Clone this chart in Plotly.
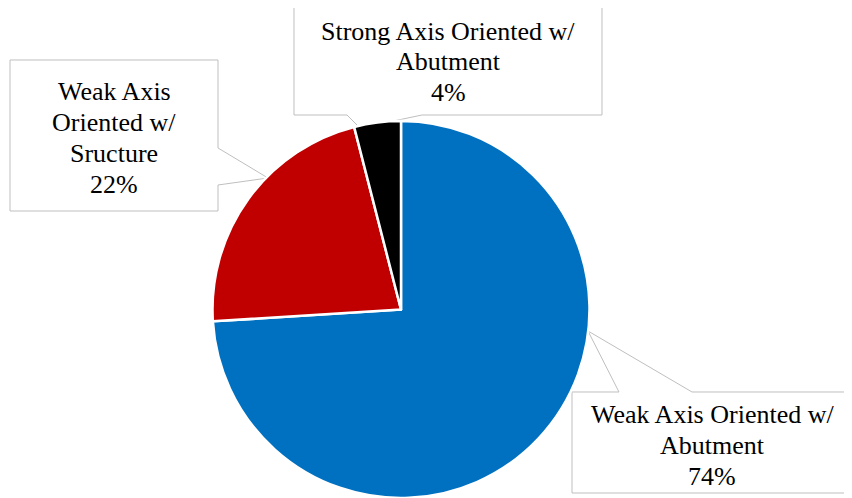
import plotly.graph_objects as go

# page body adds an 8px margin, so the figure is drawn 8px in from the window edge
OFF = 8
W, H = 852 - OFF, 498 - OFF

# data
labels = [
    "Weak Axis Oriented w/ Abutment",
    "Weak Axis Oriented w/ Sructure",
    "Strong Axis Oriented w/ Abutment",
]
label_lines = [
    ["Weak Axis Oriented w/", "Abutment"],
    ["Weak Axis", "Oriented w/", "Sructure"],
    ["Strong Axis Oriented w/", "Abutment"],
]
values = [74, 22, 4]
colors = ["#0070C0", "#C00000", "#000000"]

FONT = "Liberation Serif"
LINE_H = 31


def px(x, y):
    # window pixel -> paper coords
    return (x - OFF) / W, 1 - (y - OFF) / H


def callout_path(points):
    pts = [px(x, y) for x, y in points]
    return "M " + " L ".join(f"{x:.5f},{y:.5f}" for x, y in pts) + " Z"


cx, cy, r = 401, 310, 189
x0, y_top = px(cx - r, cy - r)
x1, _ = px(cx + r, cy - r)

fig = go.Figure()
fig.add_trace(
    go.Pie(
        labels=labels,
        values=values,
        sort=False,
        direction="clockwise",
        rotation=0,
        textinfo="none",
        hoverinfo="label+percent",
        marker=dict(colors=colors, line=dict(color="white", width=2.5)),
        domain=dict(x=[x0, x1], y=[0, y_top]),
        showlegend=False,
    )
)

# callout boxes (outline with a pointer towards the slice)
callouts = [
    # weak axis abutment (bottom right)
    [(572, 392), (619, 392), (588, 331), (692, 392), (851, 392), (851, 493), (572, 493)],
    # weak axis structure (left)
    [(10, 60), (218, 60), (218, 148), (268, 178), (218, 185), (218, 211), (10, 211)],
    # strong axis abutment (top)
    [(294, 7), (602, 7), (602, 115), (422, 115), (360, 128), (347, 115), (294, 115)],
]
text_pos = [(712, 445), (114, 138), (448, 62)]

for pts in callouts:
    fig.add_shape(
        type="path",
        path=callout_path(pts),
        xref="paper",
        yref="paper",
        fillcolor="white",
        line=dict(color="#BFBFBF", width=1),
        layer="below",
    )

total = sum(values)
for lines, v, (tx, ty) in zip(label_lines, values, text_pos):
    all_lines = lines + [f"{round(100 * v / total)}%"]
    n = len(all_lines)
    for i, line in enumerate(all_lines):
        x, y = px(tx, ty + (i - (n - 1) / 2) * LINE_H)
        fig.add_annotation(
            x=x,
            y=y,
            xref="paper",
            yref="paper",
            xanchor="center",
            yanchor="middle",
            showarrow=False,
            text=line,
            font=dict(family=FONT, size=26, color="black"),
        )

fig.update_layout(
    width=W,
    height=H,
    margin=dict(l=0, r=0, t=0, b=0),
    paper_bgcolor="white",
    plot_bgcolor="white",
    xaxis_visible=False,
    yaxis_visible=False,
)

fig.write_html("out.html")
